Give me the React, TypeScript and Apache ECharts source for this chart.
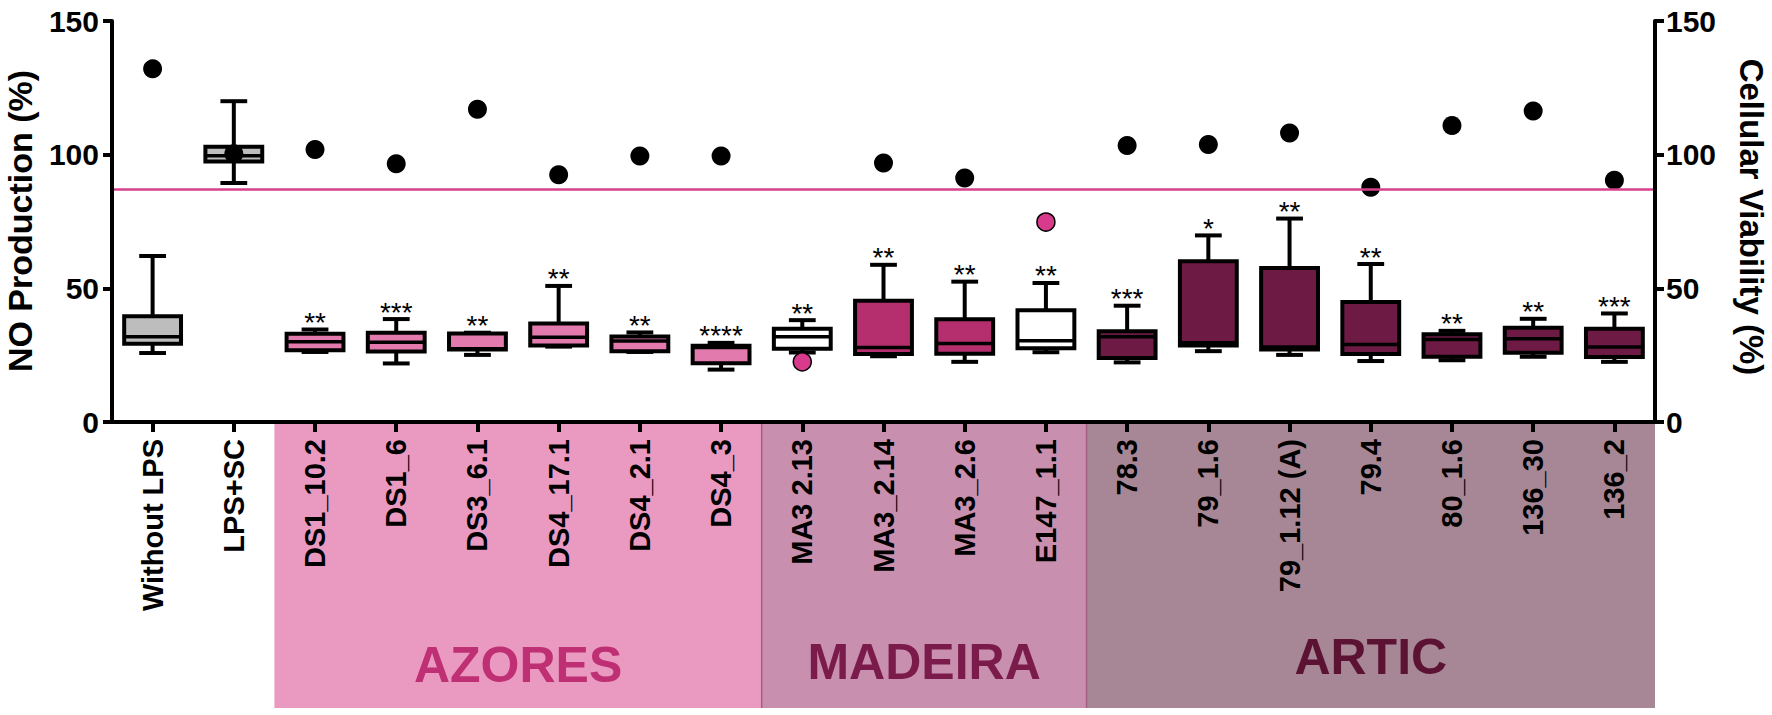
import React, { useEffect, useRef } from "react";
import * as echarts from "echarts";

const categories = [
  "Without LPS", "LPS+SC", "DS1_10.2", "DS1_6", "DS3_6.1", "DS4_17.1", "DS4_2.1", "DS4_3",
  "MA3 2.13", "MA3_2.14", "MA3_2.6", "E147_1.1",
  "78.3", "79_1.6", "79_1.12 (A)", "79.4", "80_1.6", "136_30", "136_2",
];
const groupOfCategory = [
  "control", "control", "azores", "azores", "azores", "azores", "azores", "azores",
  "madeira", "madeira", "madeira", "madeira",
  "artic", "artic", "artic", "artic", "artic", "artic", "artic",
];
// NO production box plots (left axis, %)
const whiskerMin = [25.8, 89.4, 26.2, 21.9, 25.1, 28.2, 26.2, 19.6, 26.0, 24.6, 22.5, 26.1, 22.3, 26.5, 25.1, 22.8, 23.1, 24.4, 22.5];
const q1 = [29.3, 97.4, 26.8, 26.4, 27.1, 28.6, 26.5, 22.0, 27.4, 25.4, 25.5, 27.6, 23.9, 28.6, 27.1, 25.4, 24.4, 25.9, 24.3];
const median = [31.9, 99.6, 30.0, 29.8, 27.4, 31.7, 30.3, 27.9, 31.9, 27.9, 29.4, 30.4, 31.9, 29.6, 28.1, 29.0, 30.9, 31.1, 28.1];
const q3 = [39.6, 103.0, 33.0, 33.4, 33.1, 36.8, 32.0, 28.5, 34.9, 45.4, 38.4, 41.8, 33.9, 60.1, 57.6, 44.9, 32.8, 35.3, 34.9];
const whiskerMax = [62.1, 120.0, 34.6, 38.5, 33.4, 50.9, 33.5, 29.6, 38.1, 58.8, 52.5, 52.0, 43.5, 69.8, 76.1, 59.1, 34.1, 38.6, 40.6];
const significance = ["", "", "**", "***", "**", "**", "**", "****", "**", "**", "**", "**", "***", "*", "**", "**", "**", "**", "***"];
// Cellular viability (right axis, %)
const viability = [132.1, 100.3, 101.9, 96.6, 117.0, 92.5, 99.5, 99.5, 22.5, 96.9, 91.3, 74.8, 103.4, 103.8, 108.1, 87.8, 110.9, 116.3, 90.4];
const viabilityThreshold = 87;
// Regions
const regionNames = ["AZORES", "MADEIRA", "ARTIC"];
const regionStart = [2, 8, 12];
const regionEnd = [7, 11, 18];
// Axis ticks
const yTicks = [0, 50, 100, 150];

// Styles / layout
const FONT = "Liberation Sans, Arial, Helvetica, sans-serif";
const groupFill: Record<string, string> = {
  control: "#bdbdbd",
  azores: "#e37aae",
  madeira: "#b52e6e",
  artic: "#6d1b45",
};
const regionBg = ["#ea9ac1", "#c98faf", "#a78795"];
const regionText = ["#bf2f73", "#7b1b4b", "#5c1233"];
const regionLabelY = [665, 662, 657];

export default function App() {
  const ref = useRef<HTMLDivElement>(null);
  useEffect(() => {
    if (!ref.current) return;
    const chart = echarts.init(ref.current, null, { renderer: "svg" });

    const boxData = categories.map((_, i) => [i, whiskerMin[i], q1[i], median[i], q3[i], whiskerMax[i]]);
    const regionData = regionNames.map((_, k) => [regionStart[k], regionEnd[k], 0, k]);
    const okDots = viability.map((v, i) => (v >= viabilityThreshold ? [i, v] : [i, null]));
    const lowDots = viability.map((v, i) => (v < viabilityThreshold ? [i, v] : [i, null]));

    const yAxisCommon = {
      type: "value",
      min: yTicks[0],
      max: yTicks[yTicks.length - 1],
      interval: 50,
      splitLine: { show: false },
      axisLine: { show: true, lineStyle: { color: "#000", width: 4 } },
      axisTick: { show: true, length: 9, lineStyle: { color: "#000", width: 4 } },
      axisLabel: { color: "#000", fontSize: 30, fontWeight: "bold", fontFamily: FONT, margin: 13 },
      z: 6,
    };

    const option: any = {
      animation: false,
      backgroundColor: "#ffffff",
      grid: { left: 112, top: 21, width: 1543, height: 401 },
      xAxis: {
        type: "category",
        data: categories,
        z: 6,
        axisLine: { show: true, lineStyle: { color: "#000", width: 4 } },
        axisTick: { show: true, alignWithLabel: true, length: 10, lineStyle: { color: "#000", width: 4 } },
        axisLabel: {
          interval: 0,
          rotate: 90,
          margin: 17,
          color: "#000",
          fontSize: 29,
          fontWeight: "bold",
          fontFamily: FONT,
        },
      },
      yAxis: [
        { ...yAxisCommon, position: "left" },
        { ...yAxisCommon, position: "right", axisLabel: { ...yAxisCommon.axisLabel, margin: 11 } },
      ],
      graphic: [
        {
          type: "text",
          x: 20,
          y: 221,
          rotation: Math.PI / 2,
          style: { text: "NO Production (%)", fontSize: 34, fontWeight: "bold", fontFamily: FONT, fill: "#000", align: "center", verticalAlign: "middle" },
        },
        {
          type: "text",
          x: 1751,
          y: 217,
          rotation: -Math.PI / 2,
          style: { text: "Cellular Viability (%)", fontSize: 33, fontWeight: "bold", fontFamily: FONT, fill: "#000", align: "center", verticalAlign: "middle" },
        },
      ],
      series: [
        {
          type: "custom",
          name: "regions",
          z: 0,
          silent: true,
          clip: false,
          encode: { x: [0, 1], y: 2 },
          data: regionData,
          renderItem: (params: any, api: any) => {
            const s = api.value(0);
            const e = api.value(1);
            const k = api.value(3);
            const w = api.size([1, 0])[0];
            const x0 = api.coord([s, 0])[0] - w / 2;
            const x1 = api.coord([e, 0])[0] + w / 2;
            const yTop = api.coord([s, 0])[1];
            const yBottom = api.getHeight() - 7;
            const children: any[] = [
              { type: "rect", shape: { x: x0, y: yTop, width: x1 - x0, height: yBottom - yTop }, style: { fill: regionBg[k] } },
              {
                type: "text",
                x: (x0 + x1) / 2,
                y: regionLabelY[k],
                style: { text: regionNames[k], fontSize: 50, fontWeight: "bold", fontFamily: FONT, fill: regionText[k], align: "center", verticalAlign: "middle" },
              },
            ];
            if (k > 0) {
              children.push({ type: "line", shape: { x1: x0, y1: yTop, x2: x0, y2: yBottom }, style: { stroke: "#a5607f", lineWidth: 1.5 } });
            }
            return { type: "group", children };
          },
        },
        {
          type: "custom",
          name: "NO Production",
          z: 2,
          clip: false,
          encode: { x: 0, y: [1, 2, 3, 4, 5] },
          data: boxData,
          renderItem: (params: any, api: any) => {
            const i = api.value(0);
            const x = api.coord([i, 0])[0];
            const cw = api.size([1, 0])[0];
            const bw = cw * 0.7;
            const capW = cw * 0.33;
            const yMin = api.coord([i, api.value(1)])[1];
            const yQ1 = api.coord([i, api.value(2)])[1];
            const yMed = api.coord([i, api.value(3)])[1];
            const yQ3 = api.coord([i, api.value(4)])[1];
            const yMax = api.coord([i, api.value(5)])[1];
            const fill = viability[i] < viabilityThreshold ? "#ffffff" : groupFill[groupOfCategory[i]];
            const black = { stroke: "#000", lineWidth: 4 };
            return {
              type: "group",
              children: [
                { type: "line", shape: { x1: x, y1: yQ3, x2: x, y2: yMax }, style: black },
                { type: "line", shape: { x1: x, y1: yQ1, x2: x, y2: yMin }, style: black },
                { type: "line", shape: { x1: x - capW / 2, y1: yMax, x2: x + capW / 2, y2: yMax }, style: black },
                { type: "line", shape: { x1: x - capW / 2, y1: yMin, x2: x + capW / 2, y2: yMin }, style: black },
                { type: "rect", shape: { x: x - bw / 2, y: yQ3, width: bw, height: yQ1 - yQ3 }, style: { fill, stroke: "#000", lineWidth: 4 } },
                { type: "line", shape: { x1: x - bw / 2, y1: yMed, x2: x + bw / 2, y2: yMed }, style: { stroke: "#000", lineWidth: 3.5 } },
                {
                  type: "text",
                  x: x,
                  y: yMax - 7,
                  style: { text: significance[i], fontSize: 28, fontFamily: FONT, fill: "#000", align: "center", verticalAlign: "middle" },
                },
              ],
            };
          },
        },
        {
          type: "scatter",
          name: "Cellular Viability",
          yAxisIndex: 1,
          z: 3,
          symbol: "circle",
          symbolSize: 19,
          itemStyle: { color: "#000", opacity: 1 },
          data: okDots,
        },
        {
          type: "scatter",
          name: "Cellular Viability (low)",
          yAxisIndex: 1,
          z: 4,
          symbol: "circle",
          symbolSize: 18,
          itemStyle: { color: "#d83a8c", borderColor: "#000", borderWidth: 1.5, opacity: 1 },
          data: lowDots,
          markLine: {
            silent: true,
            symbol: "none",
            label: { show: false },
            lineStyle: { color: "#d6408e", width: 2.5, type: "solid" },
            data: [{ yAxis: viabilityThreshold }],
          },
        },
      ],
    };

    chart.setOption(option);
    return () => chart.dispose();
  }, []);

  return <div ref={ref} style={{ position: "absolute", left: 0, top: 0, width: 1772, height: 715 }} />;
}
